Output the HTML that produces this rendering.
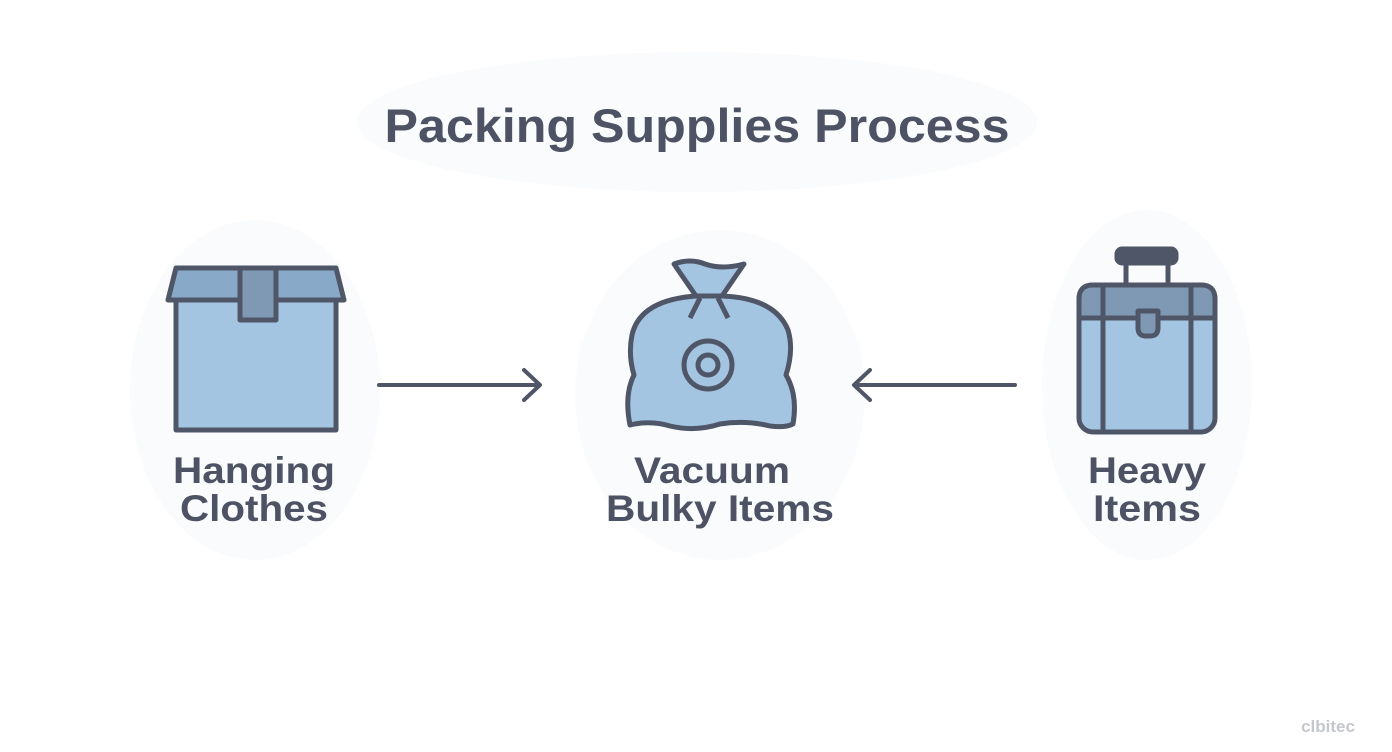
<!DOCTYPE html>
<html><head><meta charset="utf-8"><style>
html,body{margin:0;padding:0;background:#fff;}
svg{display:block;}
text{font-family:"Liberation Sans",sans-serif;font-weight:bold;fill:#4d5364;}
</style></head><body>
<svg width="1392" height="752" viewBox="0 0 1392 752" xmlns="http://www.w3.org/2000/svg">
<rect width="1392" height="752" fill="#fff"/>
<ellipse cx="697" cy="122" rx="340" ry="70" fill="#fafbfc"/>
<ellipse cx="255" cy="390" rx="125" ry="170" fill="#fafbfc"/>
<ellipse cx="720" cy="395" rx="145" ry="165" fill="#fafbfc"/>
<ellipse cx="1147" cy="385" rx="105" ry="175" fill="#fafbfc"/>
<text x="697" y="142" text-anchor="middle" font-size="47" textLength="625" lengthAdjust="spacingAndGlyphs">Packing Supplies Process</text>

<!-- box -->
<g stroke="#4f5668" stroke-width="5" stroke-linejoin="round">
<rect x="176" y="300" width="160" height="130" fill="#a4c5e2"/>
<polygon points="176,268 336,268 344,300 168,300" fill="#89a9c8"/>
<rect x="240" y="268" width="36" height="52" fill="#7f99b5"/>
</g>

<!-- arrows -->
<g stroke="#4f5668" stroke-width="4" fill="none" stroke-linecap="round" stroke-linejoin="round">
<line x1="379" y1="385" x2="539" y2="385"/>
<polyline points="524,370 540,385 524,400"/>
<line x1="1015" y1="385" x2="855" y2="385"/>
<polyline points="870,370 854,385 870,400"/>
</g>

<!-- bag -->
<g stroke="#4f5668" stroke-width="5" stroke-linejoin="round" fill="#a4c5e2">
<path d="M674,264 Q690,258 705,264 Q722,270 744,264 L722,296 L696,296 Z"/>
<path d="M696,296 Q640,300 632,335 Q628,355 634,375 Q624,395 630,425 Q650,420 670,426 Q695,432 720,424 Q745,420 770,426 Q785,428 793,424 Q798,395 786,375 Q794,350 788,330 Q775,298 722,296 Z"/>
<path d="M700,298 L690,318 M718,298 L728,318" fill="none"/>
<circle cx="708" cy="365" r="24" fill="none"/>
<circle cx="708" cy="365" r="10" fill="none"/>
</g>

<!-- suitcase -->
<g stroke="#4f5668" stroke-width="5" stroke-linejoin="round">
<path d="M1126,286 V262 M1168,286 V262" fill="none"/>
<rect x="1117" y="249" width="59" height="14" rx="5" fill="#4f5668"/>
<rect x="1079" y="285" width="136" height="147" rx="14" fill="#a4c5e2"/>
<path d="M1079,318 V299 Q1079,285 1093,285 H1201 Q1215,285 1215,299 V318 Z" fill="#7f99b5"/>
<line x1="1103" y1="285" x2="1103" y2="432"/>
<line x1="1191" y1="285" x2="1191" y2="432"/>
<path d="M1138,311 H1158 V328 Q1158,336 1150,336 H1146 Q1138,336 1138,328 Z" fill="#7f99b5"/>
</g>

<g font-size="37">
<text x="254" y="483" text-anchor="middle" textLength="162" lengthAdjust="spacingAndGlyphs">Hanging</text>
<text x="254" y="521" text-anchor="middle" textLength="148" lengthAdjust="spacingAndGlyphs">Clothes</text>
<text x="712" y="483" text-anchor="middle" textLength="156" lengthAdjust="spacingAndGlyphs">Vacuum</text>
<text x="720" y="521" text-anchor="middle" textLength="228" lengthAdjust="spacingAndGlyphs">Bulky Items</text>
<text x="1147" y="483" text-anchor="middle" textLength="118" lengthAdjust="spacingAndGlyphs">Heavy</text>
<text x="1147" y="521" text-anchor="middle" textLength="108" lengthAdjust="spacingAndGlyphs">Items</text>
</g>
<text x="1328" y="732" text-anchor="middle" font-size="17" style="fill:#c4c7cc">clbitec</text>
</svg>
</body></html>
